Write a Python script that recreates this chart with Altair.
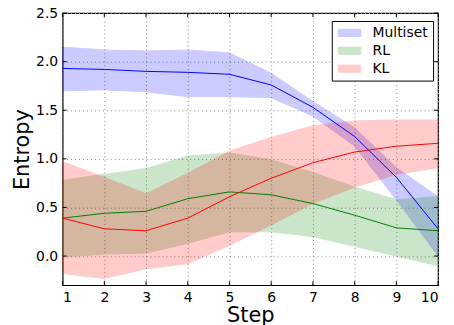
import altair as alt
import pandas as pd

steps = list(range(1, 11))
series_names = ["Multiset", "RL", "KL"]
series_colors = ["#0000ff", "#008000", "#ff0000"]

ms_mean = [1.93, 1.92, 1.90, 1.89, 1.87, 1.76, 1.53, 1.23, 0.81, 0.28]
ms_hi = [2.15, 2.12, 2.11, 2.12, 2.09, 1.88, 1.59, 1.32, 0.91, 0.61]
ms_lo = [1.70, 1.71, 1.69, 1.64, 1.64, 1.63, 1.44, 1.13, 0.58, 0.00]

rl_mean = [0.39, 0.44, 0.46, 0.59, 0.66, 0.63, 0.54, 0.42, 0.29, 0.26]
rl_hi = [0.78, 0.84, 0.90, 1.03, 1.06, 0.99, 0.86, 0.71, 0.58, 0.61]
rl_lo = [-0.01, 0.02, 0.03, 0.13, 0.25, 0.25, 0.20, 0.10, 0.00, -0.10]

kl_mean = [0.39, 0.28, 0.26, 0.39, 0.61, 0.80, 0.96, 1.07, 1.13, 1.16]
kl_hi = [0.97, 0.81, 0.64, 0.85, 1.08, 1.22, 1.34, 1.39, 1.40, 1.40]
kl_lo = [-0.18, -0.23, -0.13, -0.08, 0.11, 0.32, 0.54, 0.71, 0.84, 0.91]

y_ticks = [0.0, 0.5, 1.0, 1.5, 2.0, 2.5]

W, H = 378, 274
TICK = 4

rows = []
for name, m, hi, lo in [
    ("Multiset", ms_mean, ms_hi, ms_lo),
    ("RL", rl_mean, rl_hi, rl_lo),
    ("KL", kl_mean, kl_hi, kl_lo),
]:
    for s, a, b, c in zip(steps, m, hi, lo):
        rows.append({"step": s, "series": name, "mean": a, "hi": b, "lo": c})
df = pd.DataFrame(rows)
xt = pd.DataFrame({"step": steps})
yt = pd.DataFrame({"val": y_ticks})

scale = alt.Scale(domain=series_names, range=series_colors)
xs = alt.Scale(domain=[1, 10], nice=False)
ys = alt.Scale(domain=[-0.3, 2.5], nice=False, zero=False)

x_enc = alt.X("step:Q", scale=xs, title="Step",
              axis=alt.Axis(values=steps, format="d"))
y_axis = alt.Axis(values=y_ticks, format=".1f")

bands = alt.Chart(df).mark_area(opacity=0.2, strokeWidth=1).encode(
    x=x_enc,
    y=alt.Y("lo:Q", scale=ys, title="Entropy", axis=y_axis),
    y2="hi:Q",
    fill=alt.Fill("series:N", scale=scale, sort=series_names,
                  legend=alt.Legend(title=None, orient="none", legendX=271, legendY=8)),
    stroke=alt.Stroke("series:N", scale=scale, legend=None),
    detail="series:N",
)

lines = alt.Chart(df).mark_line(strokeWidth=1).encode(
    x=x_enc,
    y=alt.Y("mean:Q", scale=ys, title="Entropy", axis=y_axis),
    stroke=alt.Stroke("series:N", scale=scale, legend=None),
    detail="series:N",
)

tick_style = dict(color="black", strokeWidth=1)
xt_bottom = alt.Chart(xt).mark_rule(**tick_style).encode(
    x=alt.X("step:Q", scale=xs), y=alt.value(H), y2=alt.value(H - TICK))
xt_top = alt.Chart(xt).mark_rule(**tick_style).encode(
    x=alt.X("step:Q", scale=xs), y=alt.value(0), y2=alt.value(TICK))
yt_left = alt.Chart(yt).mark_rule(**tick_style).encode(
    y=alt.Y("val:Q", scale=ys), x=alt.value(0), x2=alt.value(TICK))
yt_right = alt.Chart(yt).mark_rule(**tick_style).encode(
    y=alt.Y("val:Q", scale=ys), x=alt.value(W), x2=alt.value(W - TICK))

chart = alt.layer(bands, lines, xt_bottom, xt_top, yt_left, yt_right).properties(
    width=W, height=H,
    autosize=alt.AutoSizeParams(type="none"),
    padding={"left": 55, "top": 4, "right": 8, "bottom": 40},
).configure(
    font="DejaVu Sans",
).configure_view(
    stroke="black", strokeWidth=1.2,
).configure_axis(
    domain=False,
    grid=True, gridColor="#888888", gridDash=[1, 3], gridWidth=1,
    ticks=False,
    labelFont="DejaVu Sans", labelFontSize=14, labelColor="black",
    titleFont="DejaVu Sans", titleFontSize=21, titleFontWeight="normal", titleColor="black",
).configure_axisX(
    labelPadding=5, titlePadding=1,
).configure_axisY(
    labelPadding=5, titlePadding=3,
).configure_legend(
    fillColor="white", strokeColor="black", strokeWidth=1, cornerRadius=0,
    padding=5, labelFont="DejaVu Sans", labelFontSize=14, labelColor="black",
    symbolType="M-1,-0.65H3.13V0.65H-1Z", symbolSize=121, symbolOpacity=0.2,
    symbolStrokeWidth=1, rowPadding=4, labelOffset=22,
)

chart.save("out.html", embed_options={"renderer": "svg", "actions": False})
